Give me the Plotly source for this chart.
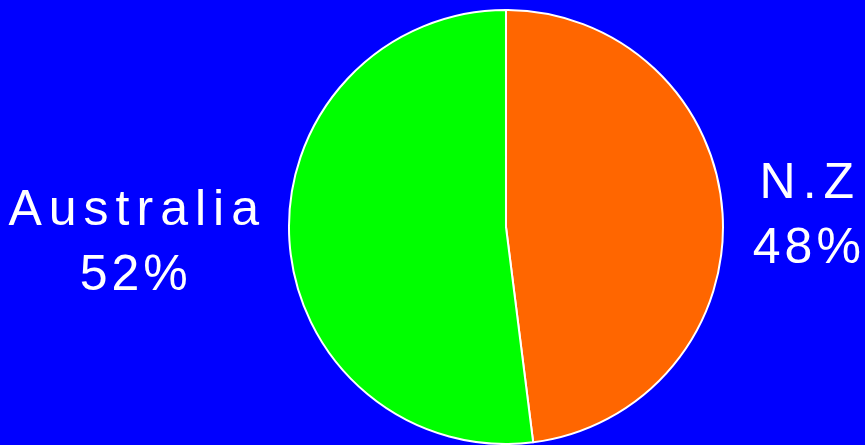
import plotly.graph_objects as go

# Share of the total between the two countries (percent)
labels = ["N.Z", "Australia"]
values = [48, 52]
colors = ["#ff6600", "#00ff00"]

NAME_SPACING = "letter-spacing:7px"
PCT_SPACING = "letter-spacing:4px"


def spaced(s, style):
    # widen the tracking between characters, without trailing space after the last one
    return f'<span style="{style}">{s[:-1]}</span>{s[-1]}'


label_html = [spaced(l, NAME_SPACING) for l in labels]

fig = go.Figure(
    go.Pie(
        labels=labels,
        values=values,
        customdata=label_html,
        marker=dict(colors=colors, line=dict(color="white", width=2)),
        textposition="outside",
        texttemplate=f'%{{customdata}}<br><span style="{PCT_SPACING}">%{{value:.0f}}</span>%',
        textfont=dict(family="Liberation Sans, Arial, sans-serif", size=50, color="white"),
        sort=False,
        direction="clockwise",
        rotation=0,
        automargin=False,
        showlegend=False,
        hoverinfo="label+percent",
        domain=dict(x=[0.1699, 1.0], y=[0, 1]),
    )
)

fig.update_layout(
    width=865,
    height=445,
    paper_bgcolor="#0000ff",
    plot_bgcolor="#0000ff",
    margin=dict(l=0, r=0, t=10, b=1),
)

fig.write_html("out.html")
